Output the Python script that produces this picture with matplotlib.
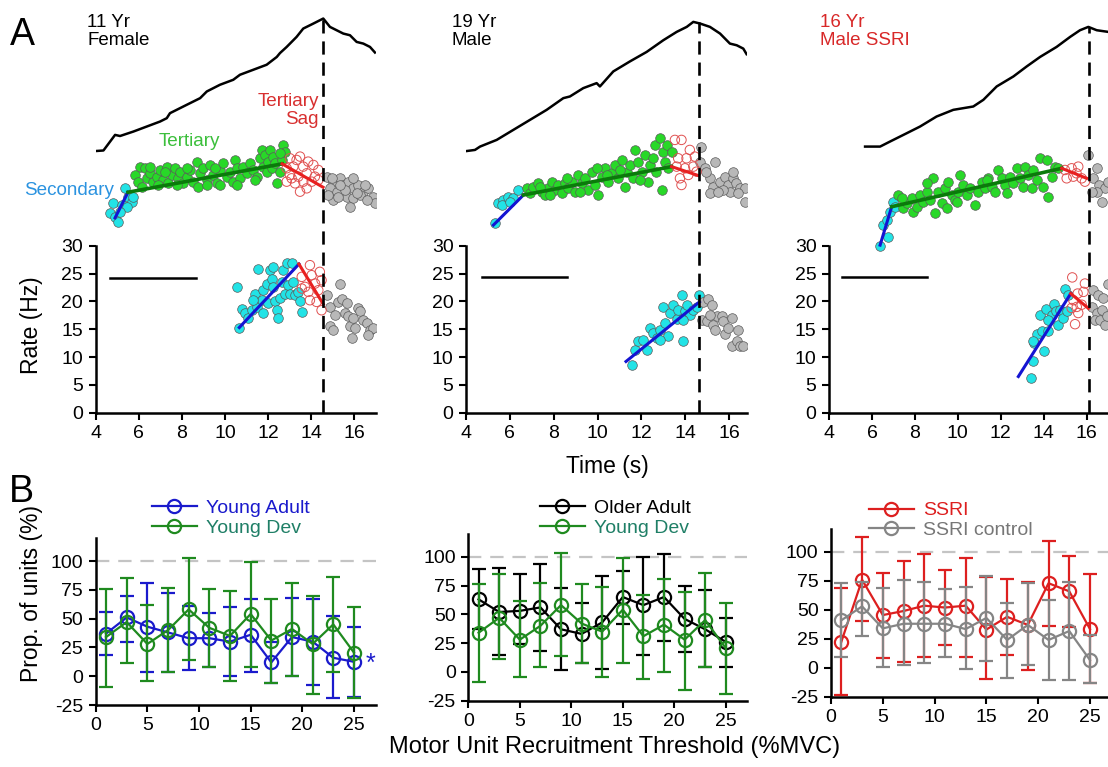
import matplotlib
matplotlib.use('Agg')
import matplotlib.pyplot as plt
import numpy as np
from matplotlib.lines import Line2D

plt.rcParams['font.family'] = ['Liberation Sans', 'DejaVu Sans']
plt.rcParams['axes.unicode_minus'] = False

# ---------------- Panel A data ----------------
# Panel A1 (11 Yr Female)
p1_trace_x = [4.0, 4.36, 4.90, 5.13, 5.75, 6.37, 6.99, 7.30, 7.45, 8.07, 8.85, 9.16, 9.77, 10.39, 10.70,
              11.32, 11.94, 12.41, 12.56, 12.87, 13.33, 13.64, 14.11, 14.57, 14.88, 15.19, 15.50, 15.81,
              16.12, 16.43, 16.74, 16.97]
p1_trace_y = [47.0, 47.1, 49.9, 49.7, 50.5, 51.4, 52.3, 52.9, 53.8, 55.0, 56.5, 57.7, 58.9, 59.8, 60.7,
              61.6, 62.5, 63.9, 64.6, 65.7, 67.5, 69.0, 69.9, 70.8, 69.3, 68.7, 68.1, 67.8,
              66.6, 66.3, 65.7, 64.7]
p1_sec_x = [5.36, 5.50, 4.80, 5.22, 5.69, 4.66, 4.90, 5.04, 5.45, 5.73, 5.13]
p1_sec_y = [40.4, 38.7, 37.6, 37.3, 37.8, 35.9, 35.2, 34.3, 36.9, 38.8, 36.0]
p1_ter_x = [6.06, 6.29, 5.83, 5.98, 6.13, 6.37, 6.52, 6.68, 6.83, 6.99, 7.14, 7.30, 7.37, 7.53, 7.68, 7.84,
            7.92, 8.07, 8.22, 8.38, 8.53, 8.69, 8.77, 8.84, 9.00, 9.15, 9.31, 9.46, 9.62, 9.77, 9.93, 10.08,
            10.24, 10.39, 10.47, 10.55, 10.70, 10.86, 11.01, 11.17, 11.32, 11.48, 11.63, 11.71, 11.79, 11.86,
            11.94, 12.02, 12.09, 12.17, 12.25, 12.33, 12.40, 12.56, 12.64, 12.71, 12.79, 6.91, 7.76, 9.15,
            9.77, 10.55, 8.22, 6.52, 7.22, 9.54, 11.40, 12.56]
p1_ter_y = [44.2, 43.9, 42.7, 41.5, 40.6, 42.1, 43.0, 41.5, 42.4, 43.6, 41.8, 44.2, 41.2, 42.7, 43.9, 42.1,
            43.3, 41.2, 42.4, 43.6, 41.5, 45.1, 40.6, 43.0, 43.9, 41.8, 44.5, 42.7, 41.2, 43.6, 44.8, 42.4,
            43.3, 41.5, 45.4, 43.9, 42.1, 44.2, 43.0, 44.8, 43.6, 42.4, 45.7, 47.2, 44.2, 46.3,
            43.3, 45.1, 47.2, 43.9, 46.0, 44.8, 41.2, 43.3, 45.4, 48.1, 46.9, 40.9, 40.9, 40.9,
            40.9, 40.9, 43.9, 44.2, 43.3, 43.9, 41.8, 46.6]
p1_sag_x = [13.02, 13.33, 13.49, 13.87, 12.87, 13.18, 13.64, 14.11, 14.34, 13.02, 13.41, 13.80, 14.18, 12.87,
            13.26, 13.64, 14.03, 13.49, 13.80, 14.34, 13.10]
p1_sag_y = [45.7, 45.4, 46.0, 45.1, 43.9, 44.2, 44.2, 44.5, 43.6, 42.7, 42.4, 43.0, 42.4, 41.5,
            41.2, 41.5, 41.5, 39.7, 40.3, 41.8, 42.1]
p1_post_x = [14.73, 15.04, 15.35, 14.88, 15.19, 15.50, 15.73, 15.96, 16.20, 16.43, 16.66, 16.89, 16.97, 15.04,
             15.66, 15.96, 16.27, 16.58, 15.81, 15.27, 14.80, 15.58, 16.12, 16.51, 15.35, 15.96, 14.96]
p1_post_y = [42.4, 41.5, 42.1, 40.3, 39.7, 40.9, 41.5, 40.3, 40.9, 39.7, 40.3, 38.8, 37.6, 38.2,
             38.8, 38.5, 39.1, 38.2, 37.0, 38.8, 39.1, 40.0, 39.4, 40.9, 40.9, 42.1, 42.1]
p1_low_sec_x = [10.58, 10.67, 10.78, 10.93, 11.09, 11.24, 11.40, 11.55, 11.48, 11.71, 11.79, 11.94, 12.02,
                12.10, 12.17, 12.25, 12.33, 12.41, 12.48, 12.56, 12.64, 12.71, 12.79, 12.87, 12.95, 13.02,
                13.10, 13.18, 13.26, 13.41, 13.49, 13.60, 11.79, 11.32, 12.25]
p1_low_sec_y = [22.5, 15.2, 18.7, 17.9, 17.0, 18.5, 21.4, 25.9, 19.0, 20.2, 22.0, 23.2, 19.7,
                25.6, 24.1, 22.6, 20.0, 18.5, 17.0, 20.6, 23.5, 25.6, 21.4, 26.8, 22.9, 21.4,
                26.8, 23.5, 21.1, 21.7, 20.0, 18.0, 17.9, 20.2, 26.2]
p1_low_sag_x = [13.95, 13.57, 14.03, 14.41, 13.72, 14.19, 14.49, 13.88, 14.34, 13.95, 14.26, 14.49, 13.57]
p1_low_sag_y = [26.5, 24.4, 24.7, 25.3, 22.6, 23.2, 23.8, 21.7, 22.0, 20.2, 19.9, 18.4, 22.3]
p1_low_post_x = [14.73, 15.35, 14.88, 15.11, 15.27, 15.42, 15.58, 15.73, 15.81, 15.89, 16.04, 16.20, 16.27,
                 16.43, 16.58, 16.74, 16.89, 16.66, 14.88, 15.03, 15.96, 15.65]
p1_low_post_y = [21.1, 23.1, 19.0, 17.5, 19.9, 20.5, 17.9, 17.3, 15.5, 13.4, 15.2, 18.8, 18.2,
                 16.7, 16.1, 14.9, 15.2, 13.9, 15.5, 14.9, 17.0, 19.7]
p1_fit_sec = ([4.90, 5.50], [35.0, 39.6])
p1_fit_ter = ([5.50, 12.66], [39.6, 44.7])
p1_fit_sag = ([12.66, 14.56], [44.7, 40.5])
p1_low_fit_sec = ([10.67, 13.44], [15.3, 26.7])
p1_low_fit_sag = ([13.44, 14.57], [26.7, 19.5])
p1_peak = (14.56, 71.0)
p1_bar = ([4.67, 8.66], [24.2, 24.2])

# Panel A2 (19 Yr Male)
p2_trace_x = [4.03, 4.41, 4.64, 5.40, 6.16, 6.92, 7.68, 8.44, 8.74, 9.35, 9.96, 10.11, 10.72, 11.48, 12.24,
              13.00, 13.61, 14.07, 14.37, 14.68, 15.13, 15.59, 16.04, 16.35, 16.65, 16.80]
p2_trace_y = [47.0, 47.2, 47.8, 49.0, 50.8, 52.6, 54.4, 56.5, 56.8, 58.3, 59.2, 58.6, 61.3, 63.1, 64.8,
              66.9, 68.4, 69.3, 70.2, 69.9, 69.3, 68.1, 66.3, 66.0, 65.4, 64.4]
p2_sec_x = [5.32, 5.48, 5.70, 5.93, 6.16, 6.39, 5.63, 6.01]
p2_sec_y = [34.0, 37.6, 38.2, 38.8, 38.5, 40.0, 37.3, 37.9]
p2_ter_x = [6.77, 6.92, 7.07, 7.30, 7.45, 7.60, 7.76, 7.91, 8.06, 8.21, 8.36, 8.52, 8.67, 8.82, 8.97, 9.12,
            9.28, 9.43, 9.58, 9.73, 9.88, 10.04, 10.19, 10.34, 10.49, 10.64, 10.80, 10.95, 11.10, 11.25,
            11.33, 11.48, 11.63, 11.71, 11.86, 12.01, 12.16, 12.31, 12.39, 12.54, 12.62, 12.69, 12.85,
            12.92, 13.00, 13.07, 13.15, 13.23, 13.38, 9.96, 9.20, 7.83, 11.02, 10.42, 11.93, 8.59, 7.38]
p2_ter_y = [40.3, 39.4, 40.6, 41.2, 39.7, 39.1, 40.3, 41.5, 40.0, 40.9, 39.4, 41.2, 40.3, 41.5, 39.7, 42.7,
            41.2, 42.1, 40.0, 43.3, 40.9, 39.1, 42.4, 43.9, 41.5, 43.0, 44.5, 42.1, 45.4, 40.6,
            43.3, 44.5, 42.1, 47.2, 45.1, 43.3, 46.3, 41.5, 44.5, 45.7, 48.1, 43.3, 49.3,
            40.0, 46.9, 45.1, 48.1, 43.9, 46.9, 43.9, 39.7, 39.1, 43.6, 42.7, 41.8, 42.1, 40.6]
p2_sag_x = [13.53, 13.83, 14.21, 13.68, 14.06, 14.44, 13.61, 13.99, 14.37, 13.76, 14.14, 13.83, 14.52]
p2_sag_y = [49.0, 49.0, 47.2, 45.7, 45.7, 46.0, 44.2, 43.9, 44.2, 42.1, 42.7, 40.9, 43.3]
p2_post_x = [14.70, 14.67, 14.90, 15.35, 15.13, 15.28, 15.13, 15.58, 15.81, 15.96, 16.19, 16.34, 16.49,
             16.72, 16.04, 15.73, 15.51, 16.42, 16.72, 14.97, 16.19]
p2_post_y = [47.8, 45.1, 43.9, 45.1, 42.1, 40.6, 39.4, 41.5, 42.4, 40.9, 42.1, 41.2, 40.3,
             40.3, 39.7, 40.0, 39.7, 39.4, 37.9, 43.3, 43.3]
p2_low_sec_x = [11.56, 11.71, 11.86, 12.09, 12.24, 12.39, 12.55, 12.70, 12.85, 13.00, 13.08, 13.23, 13.31,
                13.46, 13.61, 13.69, 13.84, 13.92, 13.99, 14.07, 14.22, 14.37, 14.52, 14.64, 12.85, 13.92]
p2_low_sec_y = [8.6, 11.3, 12.8, 13.1, 11.3, 15.2, 14.3, 13.4, 14.9, 19.0, 16.1, 13.7, 17.9,
                19.3, 16.9, 18.5, 21.1, 12.8, 18.2, 19.3, 17.6, 18.5, 19.0, 21.1, 13.1, 16.7]
p2_low_post_x = [14.83, 15.06, 15.21, 14.75, 14.98, 15.28, 15.36, 15.44, 15.66, 15.74, 15.82, 15.97, 16.12,
                 16.12, 16.35, 16.50, 16.42, 16.65, 15.13]
p2_low_post_y = [19.9, 20.5, 19.3, 16.7, 16.4, 15.8, 14.9, 17.3, 17.3, 16.4, 14.2, 15.2, 17.0,
                 11.9, 12.8, 11.9, 14.9, 11.9, 17.5]
p2_fit_sec = ([5.25, 6.62], [33.7, 39.1])
p2_fit_ter = ([6.62, 13.38], [39.1, 44.2])
p2_fit_sag = ([13.38, 14.60], [44.2, 42.6])
p2_low_fit_sec = ([11.30, 14.65], [9.2, 19.9])
p2_peak = (14.62, 70.2)
p2_bar = ([4.71, 8.59], [24.3, 24.3])

# Panel A3 (16 Yr Male SSRI)
p3_trace_x = [5.68, 6.38, 6.84, 7.62, 8.24, 9.01, 9.79, 10.72, 11.19, 11.81, 12.59, 13.21, 13.83, 14.60,
              15.23, 15.69, 16.08, 16.47, 17.01]
p3_trace_y = [47.8, 47.8, 48.7, 50.2, 51.4, 53.2, 54.4, 55.0, 56.2, 58.6, 60.4, 62.2, 63.9, 65.7,
              67.5, 68.7, 69.3, 68.7, 68.4]
p3_sec_x = [6.38, 6.76, 6.53, 6.69, 6.84, 7.00, 7.07]
p3_sec_y = [30.0, 31.6, 33.7, 34.6, 36.1, 37.9, 37.0]
p3_ter_x = [7.23, 7.46, 7.62, 7.85, 7.93, 8.08, 8.24, 8.39, 8.55, 8.70, 8.86, 8.94, 9.09, 9.25, 9.40, 9.48,
            9.56, 9.71, 9.87, 10.02, 10.10, 10.26, 10.41, 10.57, 10.80, 10.96, 11.11, 11.27, 11.42, 11.58,
            11.73, 11.89, 12.04, 12.20, 12.28, 12.43, 12.59, 12.74, 12.90, 13.05, 13.13, 13.28, 13.44,
            13.52, 13.67, 13.83, 13.98, 14.14, 14.22, 14.37, 14.53, 14.68, 8.55, 11.34, 9.95, 7.38]
p3_ter_y = [39.1, 36.7, 37.6, 38.5, 36.1, 37.0, 39.1, 37.9, 39.7, 38.2, 42.1, 35.8, 39.7, 37.6, 40.3, 36.7,
            41.5, 39.1, 38.2, 39.7, 42.7, 40.9, 39.1, 40.3, 37.3, 39.7, 41.5, 40.3, 42.1, 40.6,
            39.7, 43.6, 42.1, 40.9, 39.4, 42.4, 41.2, 43.9, 42.1, 40.6, 44.2, 42.7, 40.3,
            43.6, 41.8, 45.7, 40.6, 45.4, 38.8, 42.4, 44.2, 43.9, 41.2, 41.8, 37.9, 38.5]
p3_sag_x = [14.99, 15.30, 15.61, 15.07, 15.38, 15.77, 15.92, 15.53]
p3_sag_y = [43.6, 43.9, 44.2, 42.1, 42.4, 42.1, 41.5, 43.0]
p3_post_x = [16.08, 16.50, 16.31, 16.59, 16.85, 16.47, 16.70, 17.00, 16.23]
p3_post_y = [46.3, 43.9, 42.1, 40.9, 40.3, 39.7, 37.9, 41.5, 39.7]
p3_low_sec_x = [13.39, 13.52, 13.55, 13.70, 13.83, 13.91, 14.01, 14.09, 14.18, 14.26, 14.37, 14.48, 14.57,
                14.65, 14.76, 14.88, 14.99, 15.07, 15.15, 13.52, 14.22]
p3_low_sec_y = [6.2, 9.2, 12.6, 14.1, 17.5, 14.6, 11.1, 18.6, 14.6, 16.7, 17.5, 19.6, 18.2,
                15.8, 18.5, 17.1, 22.3, 18.2, 21.1, 12.8, 16.7]
p3_low_sag_x = [15.33, 15.92, 15.58, 15.85, 15.30, 15.54, 15.77, 15.46, 15.61, 15.38]
p3_low_sag_y = [24.3, 23.2, 21.4, 21.7, 18.8, 19.0, 19.4, 15.9, 17.9, 20.2]
p3_low_post_x = [16.31, 16.55, 16.78, 17.01, 16.23, 16.47, 16.70, 16.39, 16.62, 16.86, 16.93]
p3_low_post_y = [22.0, 21.1, 20.6, 23.1, 19.0, 17.9, 18.5, 16.7, 16.7, 15.8, 17.3]
p3_fit_sec = ([6.38, 6.92], [30.1, 37.0])
p3_fit_ter = ([6.92, 14.84], [37.0, 43.9])
p3_fit_sag = ([14.84, 16.00], [43.9, 42.1])
p3_low_fit_sec = ([12.82, 15.26], [6.5, 21.4])
p3_low_fit_sag = ([15.26, 16.08], [21.4, 18.75])
p3_peak = (16.1, 69.3)
p3_bar = ([4.59, 8.55], [24.4, 24.4])

a_xticks = [4, 6, 8, 10, 12, 14, 16]
a_yticks = [0, 5, 10, 15, 20, 25, 30]

# ---------------- Panel B data ----------------
thr = [1, 3, 5, 7, 9, 11, 13, 15, 17, 19, 21, 23, 25]
young_adult = [37, 51, 43, 38, 33, 33, 30, 36, 12, 34, 30, 16, 12.5]
young_adult_lo = [18, 30, 4, 4, 5, 8, 0, 4, -6, 0, -8, -19, -18]
young_adult_hi = [56, 70, 81, 72, 61, 55, 60, 67, 30, 68, 67, 52, 43]
young_dev = [34, 47, 28, 40, 58, 42, 35, 54, 31, 41, 28, 45, 20.5]
young_dev_lo = [-9, 11.5, -4, 4, 14, 8, -4, 8, -6, 0, -15.5, 4, -19]
young_dev_hi = [76, 85, 62, 77, 103, 76, 74, 99, 67, 81, 69.5, 86, 60]
older_adult = [63, 52, 53, 56, 37, 33, 43, 65, 58, 65, 46, 37, 26]
older_adult_lo = [37, 15, 24, 18, 2, 7.5, 2.6, 42, 15, 27, 17, 4, 4.6]
older_adult_hi = [89, 90, 85, 94, 73, 60, 83, 88, 99.5, 102, 75, 71, 47]
ssri = [22.5, 76, 45.5, 49, 53.6, 52, 53.6, 33, 44, 37, 73, 66, 33.4]
ssri_lo = [-23.6, 40, 8, 4.6, 9, 19.6, 9, -10, 11, -2, 36, 35, -13.5]
ssri_hi = [68.6, 113, 81.5, 92.5, 98, 84, 95, 78, 77, 74, 109.5, 96.5, 81]
ssri_ctrl = [41, 53, 34, 38, 38, 38, 33.4, 43, 24, 37, 24, 31.7, 6.6]
ssri_ctrl_lo = [9.5, 27, 1, 2.3, 4.3, 9.5, -1, 6, -8.6, 2.3, -11, -10.7, -13.5]
ssri_ctrl_hi = [73, 74, 68.6, 76, 74, 68, 69.5, 79, 55.6, 73.5, 58.5, 74, 28]
b_xticks = [0, 5, 10, 15, 20, 25]
b_yticks = [-25, 0, 25, 50, 75, 100]

# ---------------- figure ----------------
W, H = 1108, 767
fig = plt.figure(figsize=(W / 100, H / 100), dpi=100)


def axes_px(left, top, right, bottom):
    return fig.add_axes([left / W, 1 - bottom / H, (right - left) / W, (bottom - top) / H])


CYAN = '#22e3e6'
GREEN = '#28d828'
GRAY = '#b8b8b8'
SAGRED = '#e05050'
EDGE = '#5a5a5a'


def style_a(ax, xmax):
    ax.set_xlim(4, xmax)
    ax.set_ylim(0, 74.13)
    for s in ['top', 'right']:
        ax.spines[s].set_visible(False)
    ax.spines['left'].set_bounds(0, 30)
    for s in ['left', 'bottom']:
        ax.spines[s].set_linewidth(1.8)
    ax.set_xticks(a_xticks)
    ax.set_yticks(a_yticks)
    ax.tick_params(direction='out', length=5, width=1.5, labelsize=14, pad=4)
    ax.patch.set_alpha(0)


def draw_a(ax, trace_x, trace_y, sec, ter, sag, post, lsec, lsag, lpost,
           fsec, fter, fsag, lfsec, lfsag, peak, bar):
    ax.plot(trace_x, trace_y, color='black', lw=1.8, zorder=2)
    ax.plot(bar[0], bar[1], color='black', lw=1.8, zorder=2)
    for (xs, ys), kind in [(sec, 'c'), (ter, 'g'), (post, 'k'), (lsec, 'c'), (lpost, 'k')]:
        if xs is None:
            continue
        col = {'c': CYAN, 'g': GREEN, 'k': GRAY}[kind]
        ax.scatter(xs, ys, s=48, c=col, edgecolors=EDGE, linewidths=0.5, zorder=3)
    for xs, ys in [sag, lsag]:
        if xs is None:
            continue
        ax.scatter(xs, ys, s=46, facecolors='none', edgecolors=SAGRED, linewidths=0.7, zorder=3)
    ax.plot(*fsec, color='#1414d2', lw=2.2, zorder=4)
    ax.plot(*fter, color='#0b7a0b', lw=2.6, zorder=4)
    ax.plot(*fsag, color='#e82020', lw=2.2, zorder=4)
    ax.plot(*lfsec, color='#1414d2', lw=2.2, zorder=4)
    if lfsag is not None:
        ax.plot(*lfsag, color='#e82020', lw=2.2, zorder=4)
    ax.plot([peak[0], peak[0]], [0, peak[1]], color='black', lw=1.9, dashes=(5, 3), zorder=5)


# Panel A1
ax1 = axes_px(95.7, 0, 95.7 + 13 * 21.53, 412.7)
style_a(ax1, 17)
draw_a(ax1, p1_trace_x, p1_trace_y, (p1_sec_x, p1_sec_y), (p1_ter_x, p1_ter_y), (p1_sag_x, p1_sag_y),
       (p1_post_x, p1_post_y), (p1_low_sec_x, p1_low_sec_y), (p1_low_sag_x, p1_low_sag_y),
       (p1_low_post_x, p1_low_post_y), p1_fit_sec, p1_fit_ter, p1_fit_sag, p1_low_fit_sec,
       p1_low_fit_sag, p1_peak, p1_bar)
ax1.set_ylabel('Rate (Hz)', fontsize=16.5)
ax1.yaxis.set_label_coords(-0.19, 0.213)
ax1.text(3.6, 71.6, '11 Yr\nFemale', fontsize=13.5, va='top', ha='left', linespacing=1.1)
ax1.text(4.85, 40.0, 'Secondary', fontsize=13.6, color='#2b93e0', ha='right', va='center')
ax1.text(8.36, 48.8, 'Tertiary', fontsize=13.6, color='#3cbf3c', ha='center', va='center')
ax1.text(14.37, 57.4, 'Tertiary\nSag', fontsize=13.6, color='#d83030', ha='right', va='top',
         multialignment='right', linespacing=1.1)

# Panel A2
ax2 = axes_px(466, 0, 466 + 12.8 * 21.92, 412.7)
style_a(ax2, 16.8)
draw_a(ax2, p2_trace_x, p2_trace_y, (p2_sec_x, p2_sec_y), (p2_ter_x, p2_ter_y), (p2_sag_x, p2_sag_y),
       (p2_post_x, p2_post_y), (p2_low_sec_x, p2_low_sec_y), (None, None),
       (p2_low_post_x, p2_low_post_y), p2_fit_sec, p2_fit_ter, p2_fit_sag, p2_low_fit_sec,
       None, p2_peak, p2_bar)
ax2.text(3.35, 71.6, '19 Yr\nMale', fontsize=13.5, va='top', ha='left', linespacing=1.1)

# Panel A3
ax3 = axes_px(829, 0, 829 + 13 * 21.47, 412.7)
style_a(ax3, 17)
draw_a(ax3, p3_trace_x, p3_trace_y, (p3_sec_x, p3_sec_y), (p3_ter_x, p3_ter_y), (p3_sag_x, p3_sag_y),
       (p3_post_x, p3_post_y), (p3_low_sec_x, p3_low_sec_y), (p3_low_sag_x, p3_low_sag_y),
       (p3_low_post_x, p3_low_post_y), p3_fit_sec, p3_fit_ter, p3_fit_sag, p3_low_fit_sec,
       p3_low_fit_sag, p3_peak, p3_bar)
ax3.text(3.58, 71.6, '16 Yr\nMale SSRI', fontsize=13.5, va='top', ha='left', linespacing=1.1,
         color='#d82828')

fig.text(607 / W, 1 - 467 / H, 'Time (s)', fontsize=16.5, ha='center', va='center')
fig.text(10 / W, 1 - 45 / H, 'A', fontsize=27, ha='left', va='baseline')
fig.text(9 / W, 1 - 502 / H, 'B', fontsize=27, ha='left', va='baseline')


# ---------------- Panel B ----------------
def style_b(ax, xmax):
    ax.set_xlim(0, xmax)
    ax.set_ylim(-25, 120)
    for s in ['top', 'right']:
        ax.spines[s].set_visible(False)
    for s in ['left', 'bottom']:
        ax.spines[s].set_linewidth(1.8)
    ax.set_xticks(b_xticks)
    ax.set_yticks(b_yticks)
    ax.tick_params(direction='out', length=5, width=1.5, labelsize=14, pad=4)
    ax.axhline(100, color='#c4c4c4', lw=1.6, dashes=(6, 4), zorder=0)


def series(ax, mean, lo, hi, color, z):
    m = np.array(mean, dtype=float)
    yerr = [m - np.array(lo, dtype=float), np.array(hi, dtype=float) - m]
    ax.errorbar(thr, m, yerr=yerr, color=color, marker='o', mfc='none', mec=color, ms=9.5, mew=1.6,
                lw=1.6, elinewidth=1.6, capsize=5, capthick=1.6, zorder=z)


def legend_b(ax, colors, labels, textcolors, x0, yc):
    hs = [Line2D([], [], color=c, marker='o', mfc='none', mec=c, ms=9.5, mew=1.6, lw=1.6) for c in colors]
    ax.legend(hs, labels, loc='center left', bbox_to_anchor=(x0 / W, 1 - yc / H),
              bbox_transform=fig.transFigure, frameon=False, fontsize=14, handlelength=2.3,
              handletextpad=0.5, labelspacing=0.12, borderpad=0, borderaxespad=0, labelcolor=textcolors)


BLUE = '#1a1acc'
DGREEN = '#1f8a1f'
RED = '#dd1f1f'
MGRAY = '#858585'

bx1 = axes_px(95.7, 538, 95.7 + 27.1 * 10.33, 705)
style_b(bx1, 27.1)
series(bx1, young_adult, young_adult_lo, young_adult_hi, BLUE, 3)
series(bx1, young_dev, young_dev_lo, young_dev_hi, DGREEN, 4)
legend_b(bx1, [BLUE, DGREEN], ['Young Adult', 'Young Dev'], [BLUE, '#1f7f66'], 152, 518)
bx1.text(26.6, 11, '*', fontsize=18, color=BLUE, ha='center', va='center')
bx1.set_ylabel('Prop. of units (%)', fontsize=16.5)
bx1.yaxis.set_label_coords(-0.19, 0.665)

bx2 = axes_px(468.3, 533.7, 468.3 + 27.1 * 10.3, 700.7)
style_b(bx2, 27.1)
series(bx2, older_adult, older_adult_lo, older_adult_hi, 'black', 3)
series(bx2, young_dev, young_dev_lo, young_dev_hi, DGREEN, 4)
legend_b(bx2, ['black', DGREEN], ['Older Adult', 'Young Dev'], ['black', '#1f7f66'], 540, 518)

bx3 = axes_px(831, 528.8, 1108, 696.7)
style_b(bx3, 26.74)
series(bx3, ssri, ssri_lo, ssri_hi, RED, 3)
series(bx3, ssri_ctrl, ssri_ctrl_lo, ssri_ctrl_hi, MGRAY, 4)
legend_b(bx3, [RED, MGRAY], ['SSRI', 'SSRI control'], [RED, '#777777'], 869, 520.5)

fig.text(615 / W, 1 - 747 / H, 'Motor Unit Recruitment Threshold (%MVC)', fontsize=17,
         ha='center', va='center')

fig.savefig('out.png', dpi=100)
